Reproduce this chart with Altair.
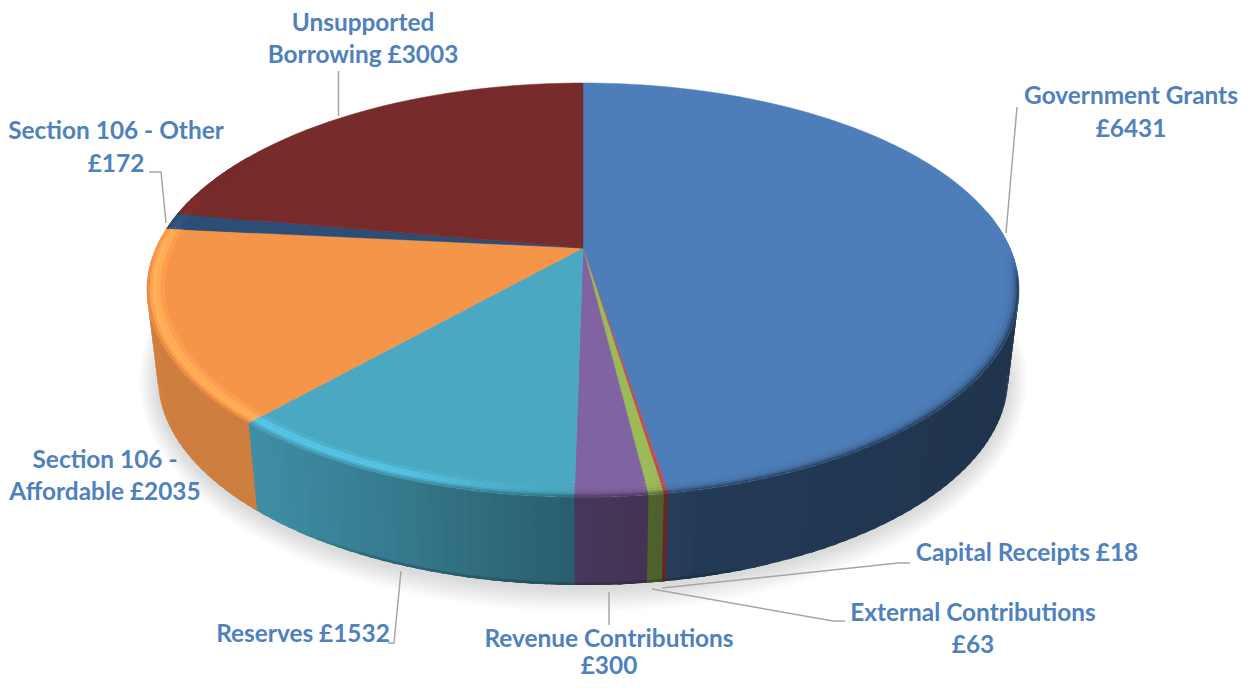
import math
import numpy as np
import pandas as pd
import altair as alt

# ---------- data ----------
categories = ["Government Grants", "Capital Receipts", "External Contributions",
              "Revenue Contributions", "Reserves", "Section 106 - Affordable",
              "Section 106 - Other", "Unsupported Borrowing"]
values = [6431, 18, 63, 300, 1532, 2035, 172, 3003]
colors = ["#4D7EBA", "#C0504D", "#9BBB59", "#8064A2", "#4AA8C3", "#F4954A", "#2C4D75", "#772B2A"]

label_lines = ["Government Grants", "£6431", "Capital Receipts £18", "External Contributions", "£63",
               "Revenue Contributions", "£300", "Reserves £1532", "Section 106 -", "Affordable £2035",
               "Section 106 - Other", "£172", "Unsupported", "Borrowing £3003"]
label_x = [1131, 1131, 1027, 973, 973, 609, 609, 303, 105, 105, 116, 116, 363, 363]
label_y = [97, 130, 554, 614, 646, 640, 667, 635, 461, 493, 132, 165, 24, 56]

leaders = [
    [(1017, 107), (1006, 233)],
    [(662, 588), (898, 563), (910, 563)],
    [(652, 589), (833, 621), (845, 621)],
    [(609, 592), (609, 625)],
    [(401, 571), (394, 643), (388, 643)],
    [(149, 172), (161, 172), (166, 223)],
    [(338.5, 71), (338.5, 116)],
]

# ---------- perspective model of the disc ----------
CX, CY = 583, 248
P, A, B = 0.203, 198.5, 427
DEPTH, BOTTOM_RATIO = 88, 425 / 436


def proj(theta_deg, r=1.0):
    t = math.radians(theta_deg)
    u, v = r * math.sin(t), r * math.cos(t)
    d = 1 + P * v
    return [CX + B * u / d, CY - A * v / d]


def smooth(a, b, x):
    s = min(1.0, max(0.0, (x - a) / (b - a)))
    return s * s * (3 - 2 * s)


def hex2rgb(h):
    return np.array([int(h[i:i + 2], 16) for i in (1, 3, 5)], float)


def rgb2hex(c):
    c = np.clip(np.round(c), 0, 255).astype(int)
    return "#%02x%02x%02x" % tuple(c)


def wall_shade(x):
    return float(np.interp(x, [150, 260, 400, 570, 650, 700, 1020],
                           [.85, .84, .72, .56, .52, .46, .41]))


def feature(pts, col):
    pts = [list(map(float, p)) for p in pts]
    pts.append(pts[0])
    return {"type": "Feature", "properties": {"color": col},
            "geometry": {"type": "Polygon", "coordinates": [pts]}}


total = sum(values)
edges = np.cumsum([0] + values) / total * 360

top, wall, rings = [], [], []
ring_r = [.96, .97, .98, .988, .994, 1.0]
ring_light = [.25, .8, 1.0, .6, .1]
ring_dark = [0.0, 0.05, .15, .4, .75]
OVERLAP = 0.6  # each strip runs under the next one, so no seams show

for a0, a1, col in zip(edges[:-1], edges[1:], colors):
    base = hex2rgb(col)
    n = max(2, int(math.ceil((a1 - a0) / 1.5)) + 1)
    th = np.linspace(a0, a1, n)
    top.append(feature([[CX, CY]] + [proj(t) for t in th], col))
    for t0, t1 in zip(th[:-1], th[1:]):
        tm = (t0 + t1) / 2
        if tm < 80 or tm > 300:
            continue
        t1x = t1 + OVERLAP
        p0, p1 = proj(t0), proj(t1x)
        xm = (proj(t0)[0] + proj(t1)[0]) / 2
        w = wall_shade(xm)
        b0 = [CX + (p0[0] - CX) * BOTTOM_RATIO, p0[1] + DEPTH]
        b1 = [CX + (p1[0] - CX) * BOTTOM_RATIO, p1[1] + DEPTH]
        m0 = [p0[0] + (b0[0] - p0[0]) * .97, p0[1] + (b0[1] - p0[1]) * .97]
        m1 = [p1[0] + (b1[0] - p1[0]) * .97, p1[1] + (b1[1] - p1[1]) * .97]
        edge = 1 - .18 * smooth(280, 380, xm) * (1 - smooth(680, 780, xm))
        wall.append(feature([p0, p1, b1, b0], rgb2hex(base * w)))
        if edge < .995:
            wall.append(feature([m0, m1, b1, b0], rgb2hex(base * w * edge)))
        v = math.cos(math.radians(tm))
        front = smooth(0.0, -0.2, v)
        light = smooth(178, 205, tm) * (1 - smooth(268, 292, tm))
        for i in range(5):
            c = base * (1 + (w - 1) * ring_dark[i] * front * (1 - .4 * light))
            c = c * (1 + 0.2 * ring_light[i] * light)
            rings.append(feature([proj(t0, ring_r[i]), proj(t1x, ring_r[i]),
                                  proj(t1x, ring_r[i + 1]), proj(t0, ring_r[i + 1])], rgb2hex(c)))

shadow = []
for d in np.linspace(24, 2, 12):
    rx, ry = 425 + d * .8, 207 + d
    shadow.append(feature([[583 + rx * math.cos(a), 381 + ry * math.sin(a)]
                           for a in np.linspace(0, 2 * math.pi, 180, endpoint=False)], "#000000"))


def geo(features):
    return alt.Data(values={"type": "FeatureCollection", "features": features},
                    format=alt.DataFormat(property="features", type="json"))


PROJ = dict(type="identity", scale=1, translate=[-8, -8])


def surface(features, stroked=False):
    enc = {"fill": alt.Color("properties.color:N", scale=None, legend=None)}
    if stroked:
        enc["stroke"] = alt.Color("properties.color:N", scale=None, legend=None)
    return (alt.Chart(geo(features)).mark_geoshape(strokeWidth=0.5)
            .encode(**enc).project(**PROJ))


shadow_layer = (alt.Chart(geo(shadow)).mark_geoshape(fill="#000000", fillOpacity=0.0125, stroke=None)
                .project(**PROJ))

xs = alt.Scale(domain=[8, 1245], range=[0, 1237])
ys = alt.Scale(domain=[8, 680], range=[0, 672])

leader_df = pd.DataFrame([{"id": i, "k": k, "x": p[0], "y": p[1]}
                          for i, seg in enumerate(leaders) for k, p in enumerate(seg)])
leader_layer = (alt.Chart(leader_df).mark_line(color="#A6A6A6", strokeWidth=1.5)
                .encode(x=alt.X("x:Q", scale=xs, axis=None), y=alt.Y("y:Q", scale=ys, axis=None),
                        detail="id:N", order="k:Q"))

label_df = pd.DataFrame({"t": label_lines, "x": label_x, "y": label_y})
label_layer = (alt.Chart(label_df)
               .mark_text(font="Lato", fontWeight="bold", fontSize=24.4, color="#4F81BD",
                          align="center", baseline="middle")
               .encode(x=alt.X("x:Q", scale=xs, axis=None), y=alt.Y("y:Q", scale=ys, axis=None),
                       text="t:N"))

chart = (alt.layer(shadow_layer, surface(wall), surface(top, True), surface(rings), leader_layer, label_layer)
         .properties(width=1237, height=672, padding=0, autosize="none", background="white")
         .configure_view(stroke=None))

chart.save("out.html", embed_options={"renderer": "svg", "actions": False})
